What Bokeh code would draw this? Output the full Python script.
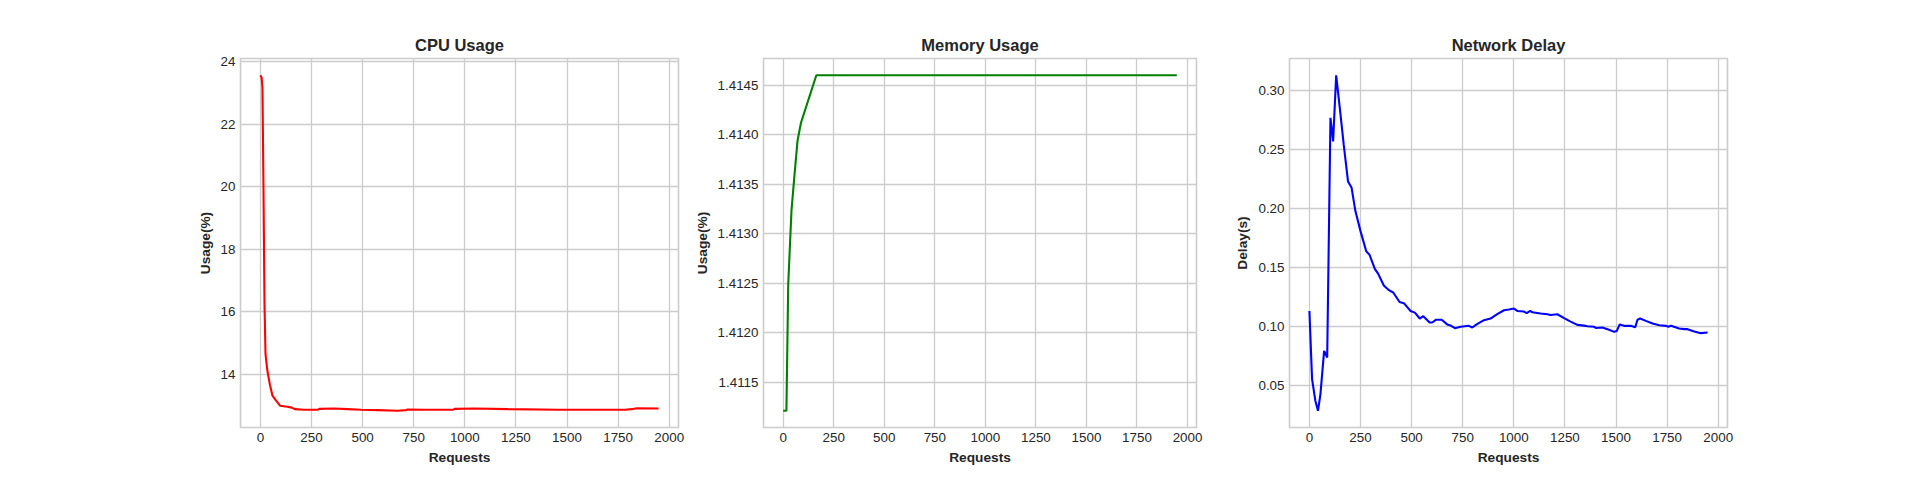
from bokeh.plotting import figure
from bokeh.layouts import row
from bokeh.models import FixedTicker, NumeralTickFormatter, Range1d
from bokeh.embed import file_html
from bokeh.resources import INLINE

# ---- data ----
cpu_x = [0, 6, 10, 15, 20, 25, 34, 46, 59, 75, 96, 132, 154, 168, 214, 280, 288, 361, 427,
         492, 574, 672, 713, 721, 803, 942, 950, 1048, 1212, 1457, 1784, 1817, 1841, 1948]
cpu_y = [23.57, 23.49, 23.17, 19.97, 16.24, 14.64, 14.11, 13.68, 13.31, 13.17, 12.99, 12.96,
         12.93, 12.88, 12.86, 12.86, 12.89, 12.90, 12.88, 12.86, 12.85, 12.83, 12.85, 12.87,
         12.86, 12.86, 12.89, 12.90, 12.88, 12.86, 12.86, 12.88, 12.91, 12.90]

mem_x = [0, 16, 25, 41, 55, 71, 88, 164, 1947]
mem_y = [1.41121, 1.41121, 1.41249, 1.41323, 1.41357, 1.41394, 1.41412, 1.41460, 1.41460]

delay_x = [0, 13, 29, 42, 54, 72, 87, 103, 116, 131, 152, 168, 189, 206, 225, 250, 278, 294,
           320, 336, 364, 389, 410, 441, 462, 495, 516, 540, 557, 588, 601, 620, 647, 674,
           691, 712, 740, 780, 797, 818, 854, 886, 919, 952, 976, 1001, 1017, 1050, 1063,
           1080, 1091, 1131, 1164, 1180, 1213, 1246, 1278, 1311, 1344, 1360, 1393, 1401,
           1433, 1466, 1491, 1504, 1518, 1540, 1572, 1594, 1605, 1618, 1646, 1679, 1712,
           1744, 1756, 1769, 1809, 1834, 1850, 1883, 1915, 1948]
delay_y = [0.1134, 0.0557, 0.0374, 0.0289, 0.043, 0.0796, 0.074, 0.277, 0.257, 0.313, 0.280,
           0.254, 0.223, 0.218, 0.198, 0.181, 0.164, 0.161, 0.149, 0.145, 0.135, 0.131, 0.129,
           0.121, 0.120, 0.1134, 0.112, 0.107, 0.109, 0.1036, 0.1036, 0.106, 0.106, 0.102,
           0.101, 0.0988, 0.100, 0.1008, 0.0994, 0.102, 0.1056, 0.107, 0.1107, 0.114, 0.1146,
           0.1154, 0.1134, 0.1129, 0.1115, 0.1134, 0.1123, 0.1112, 0.1106, 0.110, 0.1106,
           0.1073, 0.1044, 0.1016, 0.101, 0.1005, 0.100, 0.099, 0.0994, 0.0974, 0.0957,
           0.0965, 0.102, 0.1008, 0.1008, 0.0996, 0.106, 0.107, 0.105, 0.1027, 0.1013,
           0.1008, 0.100, 0.1008, 0.0985, 0.098, 0.098, 0.096, 0.0946, 0.0951]

x_ticks = [0, 250, 500, 750, 1000, 1250, 1500, 1750, 2000]
cpu_ticks = [14, 16, 18, 20, 22, 24]
mem_ticks = [1.4115, 1.4120, 1.4125, 1.4130, 1.4135, 1.4140, 1.4145]
delay_ticks = [0.05, 0.10, 0.15, 0.20, 0.25, 0.30]

TXT = "#262626"
GRID = "#cccccc"
FONT = "Liberation Sans"


def padded(vals, frac=0.05):
    lo, hi = min(vals), max(vals)
    m = (hi - lo) * frac
    return Range1d(lo - m, hi + m)


def make(title, xs, ys, color, ylabel, yticks, yfmt, bl, br, fw):
    p = figure(output_backend="svg", toolbar_location=None,
               frame_width=fw, frame_height=369,
               min_border_left=bl, min_border_right=br,
               min_border_top=58, min_border_bottom=45,
               x_range=padded(xs), y_range=padded(ys),
               background_fill_color="white", border_fill_color="white")
    p.title.text = title
    p.title.align = "center"
    p.title.text_font = FONT
    p.title.text_font_size = "16.5px"
    p.title.text_font_style = "bold"
    p.title.text_color = TXT
    p.title.standoff = 10
    p.outline_line_color = GRID
    p.outline_line_width = 1.6
    for ax in (p.xaxis[0], p.yaxis[0]):
        ax.axis_line_color = None
        ax.major_tick_line_color = None
        ax.minor_tick_line_color = None
        ax.major_tick_out = 0
        ax.major_tick_in = 0
        ax.minor_tick_out = 0
        ax.minor_tick_in = 0
        ax.major_label_text_font = FONT
        ax.major_label_text_font_size = "13.4px"
        ax.major_label_text_color = TXT
        ax.axis_label_text_font = FONT
        ax.axis_label_text_font_size = "13.7px"
        ax.axis_label_text_font_style = "bold"
        ax.axis_label_text_color = TXT
        ax.major_label_standoff = 5
        ax.axis_label_standoff = 5
    p.xaxis.axis_label = "Requests"
    p.yaxis.axis_label = ylabel
    p.xaxis.ticker = FixedTicker(ticks=x_ticks)
    p.yaxis.ticker = FixedTicker(ticks=yticks)
    p.yaxis.formatter = NumeralTickFormatter(format=yfmt)
    p.grid.grid_line_color = GRID
    p.grid.grid_line_width = 1.3
    p.line(xs, ys, line_color=color, line_width=2.1)
    return p


p1 = make("CPU Usage", cpu_x, cpu_y, "#ff0000", "Usage(%)", cpu_ticks, "0", 240, 12, 438)
p2 = make("Memory Usage", mem_x, mem_y, "#008000", "Usage(%)", mem_ticks, "0.0000", 73, 19, 433)
p3 = make("Network Delay", delay_x, delay_y, "#0000ff", "Delay(s)", delay_ticks, "0.00", 74, 20, 438)

layout = row(p1, p2, p3)
open("out.html", "w").write(file_html(layout, INLINE))
